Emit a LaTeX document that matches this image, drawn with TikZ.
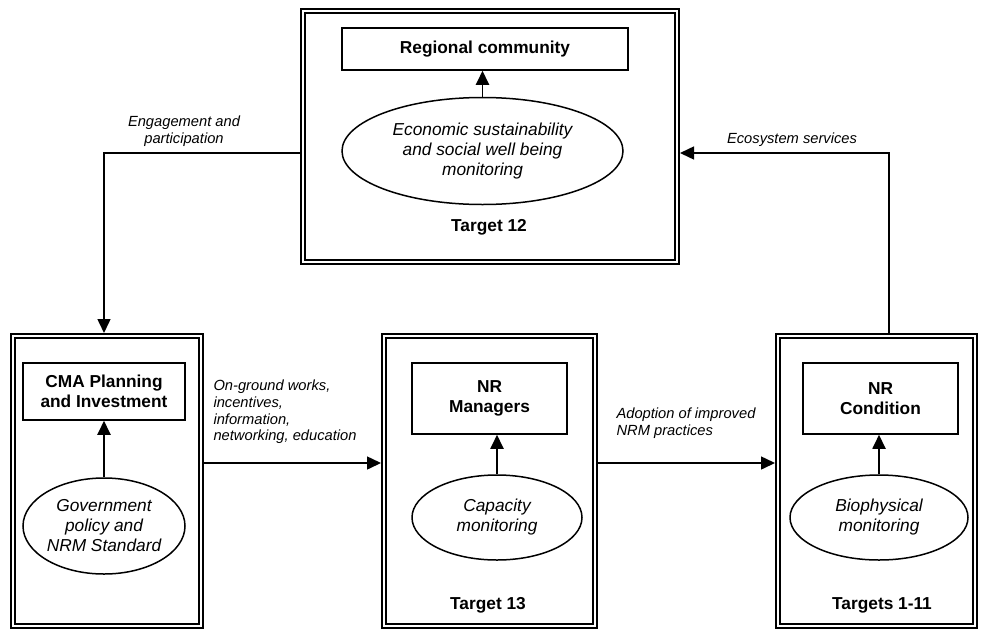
\documentclass[tikz,border=0pt]{standalone}
\usepackage{fontspec}
\setmainfont{Liberation Sans}
\usetikzlibrary{arrows.meta,shapes.geometric,calc}
\begin{document}
\begin{tikzpicture}[x=1pt,y=-1pt,
  bigbox/.style={draw, line width=1.7pt, double, double distance=2.6pt, inner sep=0pt, outer sep=3pt},
  inbox/.style={draw, line width=1.5pt, inner sep=0pt, align=center, font=\bfseries\fontsize{17.3}{20}\selectfont},
  ell/.style={ellipse, draw, line width=1.5pt, inner sep=0pt, align=center, font=\itshape\fontsize{17.3}{20}\selectfont},
  tgt/.style={font=\bfseries\fontsize{17.3}{20}\selectfont},
  lbl/.style={font=\itshape\fontsize{14.7}{16.7}\selectfont},
  arr/.style={line width=1.5pt, -{Triangle[length=14pt,width=13pt]}},
  uparr/.style={line width=1.9pt, -{Triangle[length=14pt,width=13pt]}}]
\useasboundingbox (0,0) rectangle (981,632);

% big double-bordered boxes
\node[bigbox, minimum width=374pt, minimum height=251pt] (top) at (490,136.5) {};
\node[bigbox, minimum width=188pt, minimum height=290pt] (left) at (107,481) {};
\node[bigbox, minimum width=211pt, minimum height=290pt] (mid) at (489.5,481) {};
\node[bigbox, minimum width=197pt, minimum height=290pt] (right) at (876.5,481) {};

% inner boxes
\node[inbox, minimum width=286pt, minimum height=42pt] (rc) at (485,49) {Regional community};
\node[inbox, minimum width=162pt, minimum height=57pt] (cma) at (104,391.5) {CMA Planning\\and Investment};
\node[inbox, minimum width=155pt, minimum height=71pt] (mgr) at (489.5,398.5) {NR\\Managers};
\node[inbox, minimum width=155pt, minimum height=71pt] (cond) at (880.5,398.5) {NR\\Condition};

% ellipses
\node[ell, minimum width=281pt, minimum height=107pt] (eco) at (482.5,151) {Economic sustainability\\and social well being\\monitoring};
\node[ell, minimum width=162pt, minimum height=96pt] (gov) at (104,526) {Government\\policy and\\NRM Standard};
\node[ell, minimum width=170pt, minimum height=85pt] (cap) at (497,517.5) {Capacity\\monitoring};
\node[ell, minimum width=178pt, minimum height=85pt] (bio) at (879,517.5) {Biophysical\\monitoring};

% targets
\node[tgt] (t12) at (489,227) {Target 12};
\node[tgt] (t13) at (488,605) {Target 13};
\node[tgt] (t111) at (882,605) {Targets 1-11};

% internal arrows
\draw[uparr] (eco.north) -- (eco.north |- rc.south);
\draw[uparr] (gov.north) -- (gov.north |- cma.south);
\draw[uparr] (cap.north) -- (cap.north |- mgr.south);
\draw[uparr] (bio.north) -- (bio.north |- cond.south);

% connectors between big boxes
\draw[arr] ([yshift=-16.5pt]top.west) -| ([xshift=-3pt]left.north);
\draw[arr] ([xshift=12.5pt]right.north) |- ([yshift=-16.5pt]top.east);
\draw[arr] ([yshift=18pt]left.east) -- ([yshift=18pt]mid.west);
\draw[arr] ([yshift=18pt]mid.east) -- ([yshift=18pt]right.west);

% connector labels
\node[lbl, align=center] (lengage) at (184,131) {Engagement and\\participation};
\node[lbl] (leco) at (792,140) {Ecosystem services};
\node[lbl, align=left, anchor=west] (lwork) at (210,412) {On-ground works,\\incentives,\\information,\\networking, education};
\node[lbl, align=left, anchor=west] (ladopt) at (613,423.5) {Adoption of improved\\NRM practices};
\end{tikzpicture}
\end{document}
